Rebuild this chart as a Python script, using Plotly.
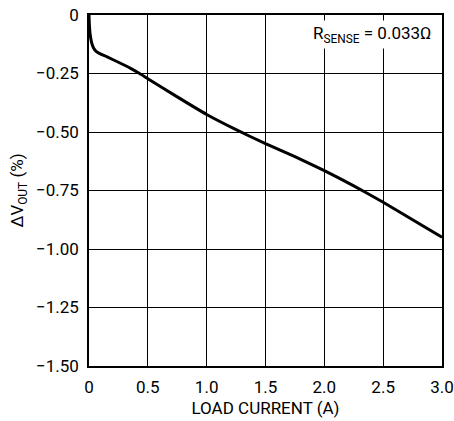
import plotly.graph_objects as go

current = [0, 0.003, 0.008, 0.015, 0.025, 0.04, 0.06, 0.1, 0.15, 0.25, 0.35, 0.43, 0.5, 0.75, 1.0, 1.25, 1.5, 1.75, 2.0, 2.25, 2.5, 2.75, 3.0]
dvout = [0, -0.04, -0.075, -0.1, -0.123, -0.142, -0.155, -0.167, -0.178, -0.202, -0.227, -0.25, -0.272, -0.35, -0.425, -0.49, -0.55, -0.605, -0.665, -0.73, -0.80, -0.875, -0.95]

x_ticks = [0, 0.5, 1.0, 1.5, 2.0, 2.5, 3.0]
x_labels = ["0", "0.5", "1.0", "1.5", "2.0", "2.5", "3.0"]
y_ticks = [0, -0.25, -0.5, -0.75, -1.0, -1.25, -1.5]
y_labels = ["0", "\u22120.25", "\u22120.50", "\u22120.75", "\u22121.00", "\u22121.25", "\u22121.50"]

FONT = "Roboto, sans-serif"

fig = go.Figure()
fig.add_trace(go.Scatter(x=current, y=dvout, mode="lines",
                         line=dict(color="black", width=3, shape="spline", smoothing=0.5),
                         hoverinfo="skip", showlegend=False))

fig.update_layout(
    width=454, height=421,
    margin=dict(l=89, r=12, t=15, b=55, autoexpand=False),
    paper_bgcolor="white", plot_bgcolor="white",
    font=dict(family=FONT, size=17, color="black"),
    xaxis=dict(range=[0, 3.0], tickvals=x_ticks, ticktext=x_labels,
               showgrid=True, gridcolor="black", gridwidth=1,
               showline=True, linecolor="black", linewidth=1.5, mirror=True,
               ticks="", zeroline=False, automargin=False, ticklabelstandoff=5,
               title=dict(text="LOAD CURRENT (A)", standoff=6, font=dict(size=17))),
    yaxis=dict(range=[-1.5, 0], tickvals=y_ticks, ticktext=y_labels,
               showgrid=True, gridcolor="black", gridwidth=1,
               showline=True, linecolor="black", linewidth=1.5, mirror=True,
               ticks="", zeroline=False, automargin=False, ticklabelstandoff=5,
               title=dict(text="\u0394V<sub>OUT</sub> (%)", standoff=8, font=dict(size=17))),
)

fig.add_annotation(x=0.978, y=0.985, xref="paper", yref="paper", xanchor="right", yanchor="top",
                   text="R<sub>SENSE</sub> = 0.033\u03a9", showarrow=False,
                   bgcolor="white", font=dict(size=17), borderpad=2)

fig.write_html("out.html", config={"displayModeBar": False},
               post_script="document.body.style.margin='0';")
